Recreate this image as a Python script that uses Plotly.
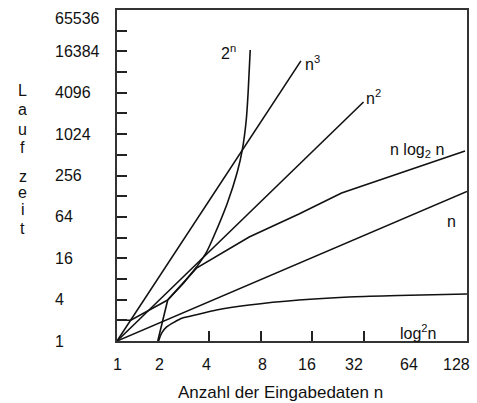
import math
import plotly.graph_objects as go

# ---------------- data ----------------
# x = number of inputs n, y = running time (Laufzeit)
n_lin = [1, 128]
t_lin = [1, 150]

n_quad = [1, 30.5]
t_quad = [1, 3000]

n_cube = [1, 12.8]
t_cube = [1, 11900]

n_exp = [1, 1.21, 2.02, 2.52, 3.01, 3.46, 3.81, 4.62, 5.30, 5.68, 6.0, 6.17, 6.34]
t_exp = [2, 2, 3.95, 6.98, 11.9, 19.7, 32.6, 102, 288, 602, 1644, 4490, 17150]

n_nlogn = [1.76, 2.02, 3.01, 6.25, 12.46, 22.5, 124.5]
t_nlogn = [1, 3.95, 11.5, 32.6, 70.5, 142, 582]

n_logsq = [1.78, 1.86, 1.99, 2.22, 2.48, 3.14, 3.97, 6.25, 12.46, 24.8, 49.5, 128]
t_logsq = [1, 1.31, 1.60, 1.89, 2.16, 2.47, 2.83, 3.34, 3.95, 4.37, 4.59, 4.83]

x_tick_labels = ["1", "2", "4", "8", "16", "32", "64", "128"]
y_tick_labels = ["1", "4", "16", "64", "256", "1024", "4096", "16384", "65536"]
y_tick_values = [1, 4, 16, 64, 256, 1024, 4096, 16384, 65536]

curve_labels = ["2<sup>n</sup>", "n<sup>3</sup>", "n<sup>2</sup>",
                "n log<sub>2</sub> n", "n", "log<sup>2</sup>n"]

x_title = "Anzahl der Eingabedaten n"
y_title = "Laufzeit"

# ---------------- layout helpers ----------------
FONT = "Liberation Sans, Arial, Helvetica, sans-serif"
INK = "#111111"

x_label_pos = [0.0, 0.122, 0.256, 0.415, 0.543, 0.676, 0.835, 0.969]   # paper
x_tick_marks = [3.6, 7.38, 14.9, 30.5]
y_tick_marks = [2 ** k for k in range(1, 16)]

fig = go.Figure()


def add_line(xs, ys, shape="linear"):
    fig.add_trace(go.Scatter(x=xs, y=ys, mode="lines",
                             line=dict(color=INK, width=1.6, shape=shape, smoothing=0.8),
                             hoverinfo="skip", showlegend=False))


add_line(n_lin, t_lin)
add_line(n_quad, t_quad)
add_line(n_cube, t_cube)
# 2^n: straight start, smooth steep part
add_line(n_exp[:3], t_exp[:3])
add_line(n_exp[2:5], t_exp[2:5])
add_line(n_exp[4:], t_exp[4:], "spline")
add_line(n_nlogn, t_nlogn)
add_line(n_logsq, t_logsq, "spline")

ann = []
# x tick labels
for txt, px in zip(x_tick_labels, x_label_pos):
    ann.append(dict(text=txt, xref="paper", yref="paper", x=px, y=-0.070,
                    xanchor="center", yanchor="middle", showarrow=False,
                    font=dict(family=FONT, size=16, color=INK)))
# y tick labels (left aligned)
for txt, val in zip(y_tick_labels, y_tick_values):
    ann.append(dict(text=txt, xref="paper", yref="y", x=-0.182, y=math.log10(val),
                    xanchor="left", yanchor="middle", showarrow=False,
                    yshift=-8 if val == 65536 else 0,
                    font=dict(family=FONT, size=16, color=INK)))
# x axis title
ann.append(dict(text=x_title, xref="paper", yref="paper", x=0.466, y=-0.157,
                xanchor="center", yanchor="middle", showarrow=False,
                font=dict(family=FONT, size=17, color=INK)))
# y axis title, stacked letters
letter_y = [91, 109.5, 129.5, 147, 176.5, 193, 209.5, 229]
for ch, py in zip(y_title, letter_y):
    ann.append(dict(text=ch, xref="paper", yref="paper", x=-0.270,
                    y=(341 - py) / 331, xanchor="center", yanchor="middle",
                    height=15, showarrow=False,
                    font=dict(family=FONT, size=16, color=INK)))
# curve labels
label_pos = [(0.318, 0.872, "center"), (0.531, 0.840, "left"), (0.707, 0.737, "left"),
             (0.773, 0.577, "left"), (0.957, 0.360, "center"), (0.804, 0.027, "left")]
for txt, (lx, ly, xa) in zip(curve_labels, label_pos):
    ann.append(dict(text=txt, xref="paper", yref="paper", x=lx, y=ly,
                    xanchor=xa, yanchor="middle", showarrow=False,
                    font=dict(family=FONT, size=16, color=INK)))

axis_common = dict(showgrid=False, zeroline=False, showline=True, linecolor="#333333",
                   linewidth=2, mirror=True, ticks="inside", ticklen=10, tickwidth=1.6,
                   tickcolor="#222222", showticklabels=False)

fig.update_layout(
    width=477, height=403,
    margin=dict(l=117, r=8, t=10, b=62),
    paper_bgcolor="white", plot_bgcolor="white",
    xaxis=dict(type="log", range=[0, math.log10(128)], tickvals=x_tick_marks, **axis_common),
    yaxis=dict(type="log", range=[0, math.log10(65536)], tickvals=y_tick_marks, **axis_common),
    annotations=ann,
    showlegend=False,
)

fig.write_html("out.html", config={"displayModeBar": False},
               post_script="document.body.style.margin='0';document.body.style.overflow='hidden';")
